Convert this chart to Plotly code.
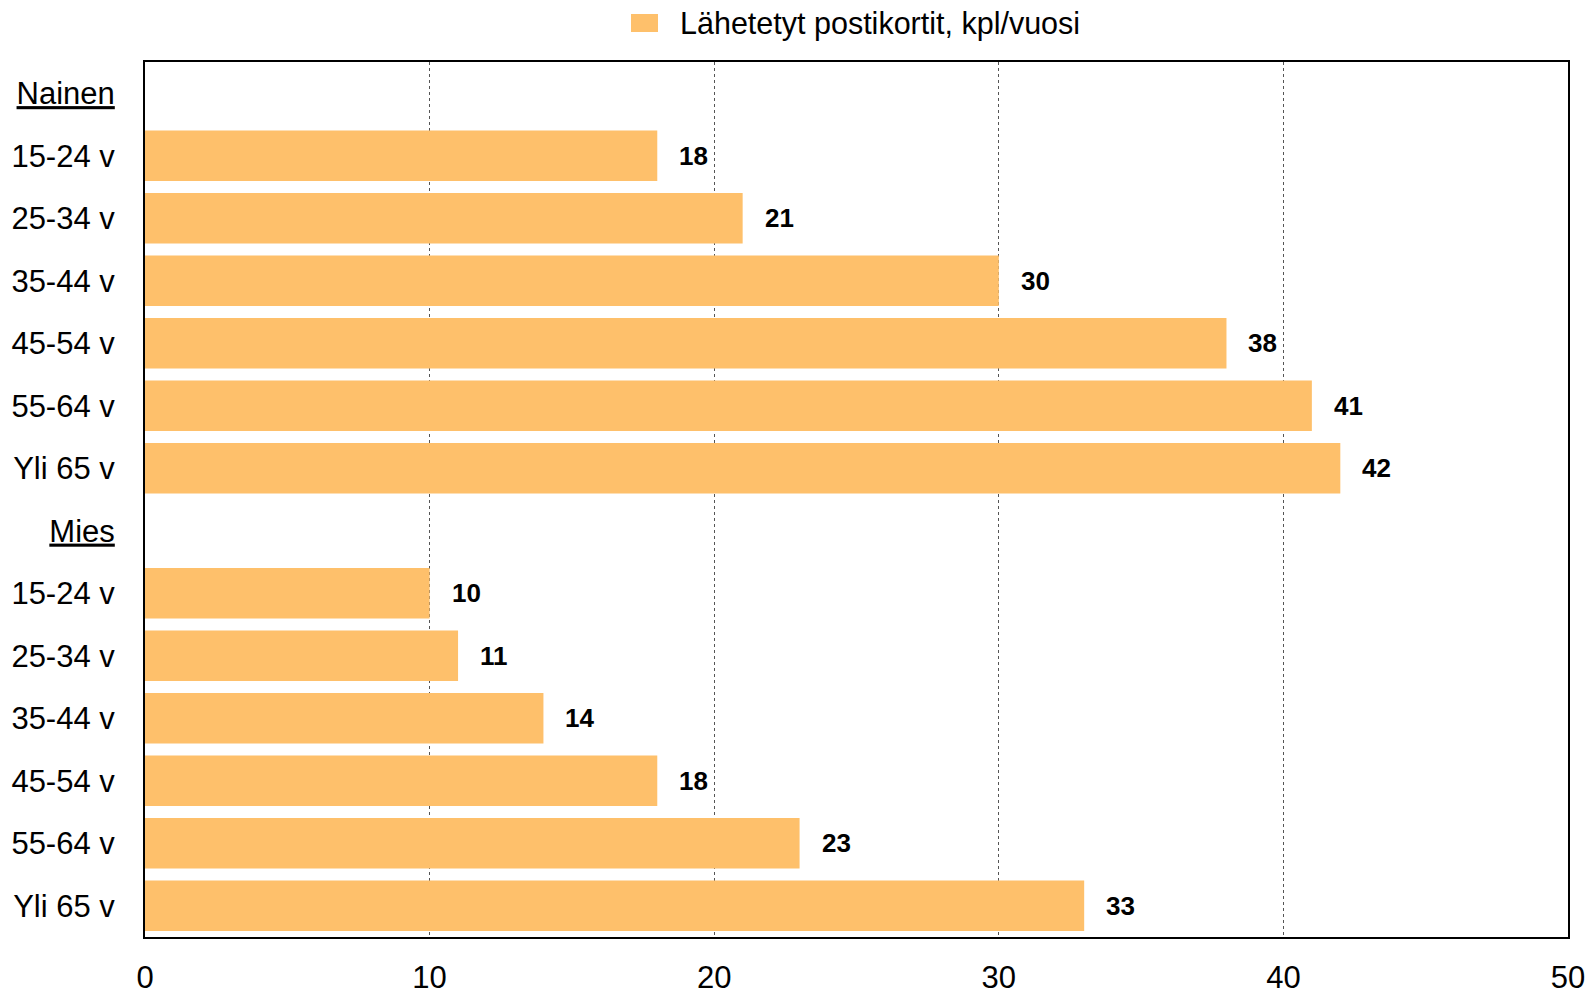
import plotly.graph_objects as go

categories = ["N_head", "N15", "N25", "N35", "N45", "N55", "N65",
              "M_head", "M15", "M25", "M35", "M45", "M55", "M65"]
labels = ["<u>Nainen</u>", "15-24 v", "25-34 v", "35-44 v", "45-54 v", "55-64 v", "Yli 65 v",
          "<u>Mies</u>", "15-24 v", "25-34 v", "35-44 v", "45-54 v", "55-64 v", "Yli 65 v"]
values = [None, 18, 21, 30, 38, 41, 42,
          None, 10, 11, 14, 18, 23, 33]
series_name = "Lähetetyt postikortit, kpl/vuosi"
x_ticks = [0, 10, 20, 30, 40, 50]

FONT = "Liberation Sans, Arial, sans-serif"
BAR = "#FEC06B"
W, H = 1589, 995
L, R, T, B = 145, 21, 62, 58

fig = go.Figure()
fig.add_trace(go.Bar(
    y=categories, x=values, orientation="h", name=series_name,
    marker=dict(color=BAR, line=dict(width=0)), width=0.81,
    showlegend=False,
))

for c, v in zip(categories, values):
    if v is None:
        continue
    fig.add_annotation(x=v, y=c, text=f"<b>{v}</b>", showarrow=False,
                       xanchor="left", xshift=20,
                       font=dict(family=FONT, size=26, color="black"))

# legend (drawn manually for a larger swatch)
pw = W - L - R
ph = H - T - B
def px_x(p):
    return (p - L) / pw
def px_y(p):
    return (H - B - p) / ph
fig.add_shape(type="rect", xref="paper", yref="paper",
              x0=px_x(631), x1=px_x(658), y0=px_y(32), y1=px_y(14),
              fillcolor=BAR, line=dict(width=0))
fig.add_annotation(xref="paper", yref="paper", x=px_x(678), y=px_y(23),
                   xanchor="left", yanchor="middle", showarrow=False,
                   text=series_name, font=dict(family=FONT, size=30.5, color="black"))

fig.update_layout(
    width=W, height=H,
    margin=dict(l=L, r=R, t=T, b=B, autoexpand=False),
    paper_bgcolor="white", plot_bgcolor="white",
    font=dict(family=FONT, size=31, color="black"),
    showlegend=False,
    xaxis=dict(range=[0, 50], tickvals=x_ticks, showgrid=True, gridcolor="#555555",
               griddash="dot", gridwidth=1, zeroline=False, showline=True,
               linecolor="black", linewidth=2, mirror=True, ticks="",
               automargin=False, ticklabelstandoff=12, tickfont=dict(size=31)),
    yaxis=dict(autorange="reversed", tickvals=categories, ticktext=labels,
               showgrid=False, showline=True, linecolor="black", linewidth=2,
               mirror=True, ticks="", automargin=False,
               ticklabelstandoff=22, tickfont=dict(size=31)),
)

fig.write_html("out.html", config={"displayModeBar": False},
               post_script="document.body.style.margin='0';document.body.style.overflow='hidden';")
